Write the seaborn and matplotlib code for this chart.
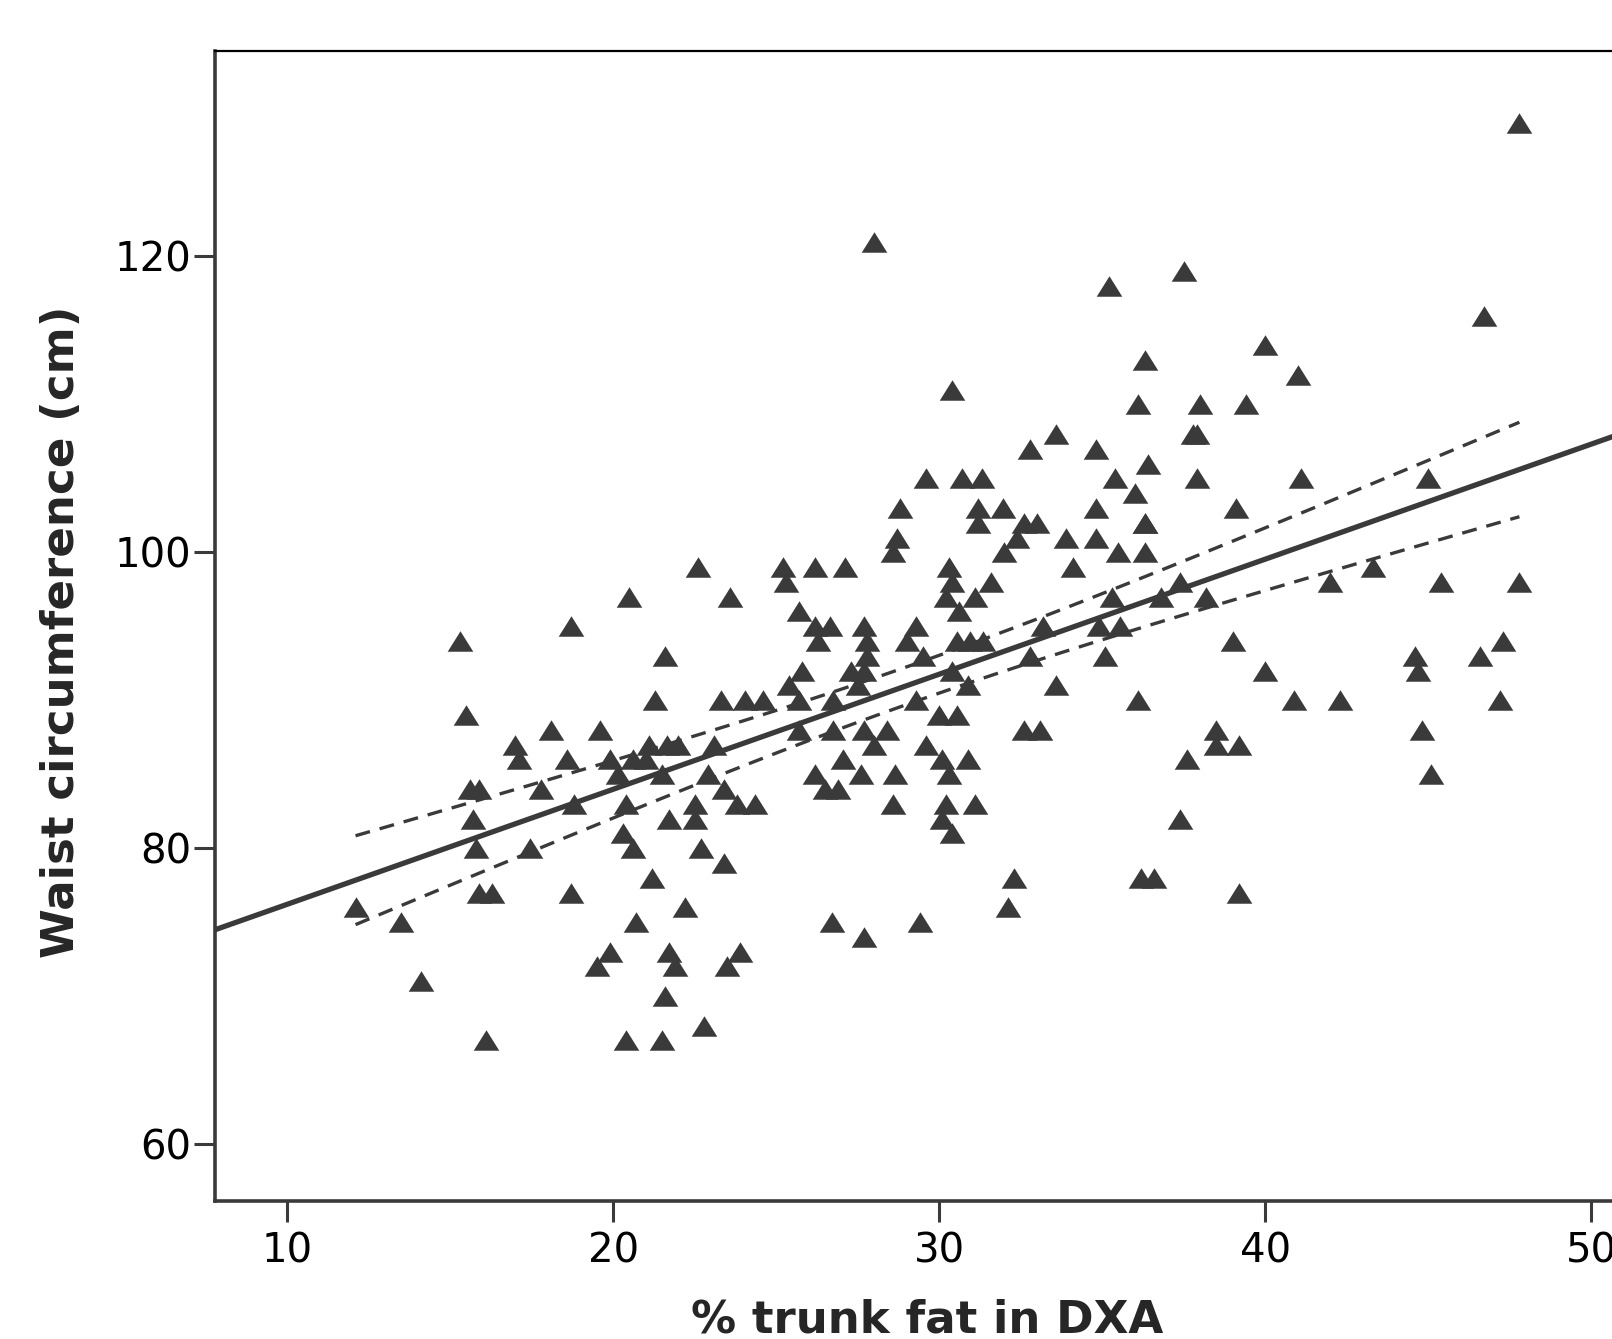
import numpy as np
import pandas as pd
import matplotlib
matplotlib.use("Agg")
import matplotlib.pyplot as plt
import seaborn as sns

# % trunk fat (DXA) and waist circumference (cm)
trunk_fat = [
    12.1, 13.5, 14.1, 16.1, 15.3, 15.5, 15.6, 15.9, 15.7, 15.8, 15.9, 16.3,
    17.0, 17.1, 17.45, 17.8, 18.6, 18.1, 18.7, 18.8, 18.7, 19.6, 19.9, 20.15,
    20.3, 20.6, 20.4, 20.5, 20.6, 21.0, 21.1, 21.65, 22.0, 21.3, 21.6, 21.5,
    21.7, 22.5, 22.5, 22.6, 22.9, 23.1, 22.7, 23.4, 23.6, 23.3, 24.05, 24.6,
    23.4, 23.8, 24.35, 21.2, 22.2, 20.7, 19.9, 19.5, 21.7, 21.9, 23.9, 23.5,
    21.6, 22.8, 20.4, 21.5,
    28.7, 28.6, 31.2, 32.4, 32.0, 33.9, 34.8, 36.3, 35.5, 36.3, 34.1, 25.2,
    26.2, 27.1, 25.3, 30.3, 30.4, 31.6, 30.2, 31.1, 30.6, 35.3, 25.7, 26.2,
    26.65, 26.3, 27.7, 27.8, 27.8, 29.3, 29.0, 29.5, 30.55, 30.95, 31.35, 30.4,
    30.9, 33.2, 34.9, 35.55, 32.8, 35.1, 33.6, 36.1, 25.8, 25.4, 25.7, 27.3,
    27.7, 27.5, 26.75, 29.3, 30.0, 30.55, 25.7, 26.75, 27.7, 28.4, 28.0, 29.6,
    30.1, 30.9, 27.05, 27.6, 28.65, 30.3, 26.2, 26.5, 26.9, 32.6, 33.1, 28.6,
    30.2, 31.1, 30.1, 30.4, 32.3, 32.1, 26.7, 27.7, 29.4, 36.2, 36.6,
    28.0, 35.2, 37.5, 36.3, 30.4, 36.1, 38.0, 39.4, 37.8, 37.9, 33.6, 32.8,
    34.8, 36.4, 29.6, 30.7, 31.3, 35.4, 37.9, 36.0, 28.8, 31.2, 31.96, 34.8,
    39.1, 36.3, 32.6, 33.0, 46.7, 40.0, 41.0, 41.1, 45.0, 47.8,
    37.4, 36.8, 38.2, 42.0, 43.3, 45.4, 47.8, 39.0, 40.0, 44.6, 44.7, 46.6,
    47.3, 40.9, 42.3, 47.2, 44.8, 38.5, 38.5, 39.2, 37.6, 45.1, 37.4, 39.2,
]
waist = [
    76, 75, 71, 67, 94, 89, 84, 84, 82, 80, 77, 77,
    87, 86, 80, 84, 86, 88, 95, 83, 77, 88, 86, 85,
    81, 80, 83, 97, 86, 86, 87, 87, 87, 90, 93, 85,
    82, 83, 82, 99, 85, 87, 80, 79, 97, 90, 90, 90,
    84, 83, 83, 78, 76, 75, 73, 72, 73, 72, 73, 72,
    70, 68, 67, 67,
    101, 100, 102, 101, 100, 101, 101, 102, 100, 100, 99, 99,
    99, 99, 98, 99, 98, 98, 97, 97, 96, 97, 96, 95,
    95, 94, 95, 94, 93, 95, 94, 93, 94, 94, 94, 92,
    91, 95, 95, 95, 93, 93, 91, 90, 92, 91, 90, 92,
    92, 91, 90, 90, 89, 89, 88, 88, 88, 88, 87, 87,
    86, 86, 86, 85, 85, 85, 85, 84, 84, 88, 88, 83,
    83, 83, 82, 81, 78, 76, 75, 74, 75, 78, 78,
    121, 118, 119, 113, 111, 110, 110, 110, 108, 108, 108, 107,
    107, 106, 105, 105, 105, 105, 105, 104, 103, 103, 103, 103,
    103, 102, 102, 102, 116, 114, 112, 105, 105, 129,
    98, 97, 97, 98, 99, 98, 98, 94, 92, 93, 92, 93,
    94, 90, 90, 90, 88, 88, 87, 87, 86, 85, 82, 77,
]

x_ticks = [10, 20, 30, 40, 50]
y_ticks = [60, 80, 100, 120]

df = pd.DataFrame({"trunk_fat": trunk_fat, "waist": waist})

sns.set_style("ticks")
plt.rcParams["font.family"] = ["DejaVu Sans"]

dark = "#3a3a3a"
fig = plt.figure(figsize=(16.12, 13.39), dpi=100)
ax = fig.add_axes([0.1334, 0.1031, 0.884, 0.8589])
ax.set_xlim(7.79, 51.5)
ax.set_ylim(56.15, 133.9)

# flattened triangle marker like SPSS
tri = [(-1, -0.8), (1, -0.8), (0, 0.8)]
sns.scatterplot(data=df, x="trunk_fat", y="waist", marker=tri, s=340,
                color=dark, edgecolor=dark, linewidth=0, ax=ax, zorder=3)

# fit line across the whole axis
sns.regplot(data=df, x="trunk_fat", y="waist", scatter=False, ci=None,
            truncate=False, color=dark, line_kws=dict(lw=3.8), ax=ax)

# 95% CI for the mean, drawn as dashed lines over the data range
x = df["trunk_fat"].to_numpy()
y = df["waist"].to_numpy()
n = len(x)
slope, intercept = np.polyfit(x, y, 1)
resid = y - (intercept + slope * x)
s_err = np.sqrt((resid ** 2).sum() / (n - 2))
grid = np.linspace(x.min(), x.max(), 100)
se = s_err * np.sqrt(1 / n + (grid - x.mean()) ** 2 / ((x - x.mean()) ** 2).sum())
fit = intercept + slope * grid
for sign in (1, -1):
    ax.plot(grid, fit + sign * 1.97 * se, color=dark, lw=2.4, ls=(0, (4.5, 3)))

ax.set_xticks(x_ticks)
ax.set_yticks(y_ticks)
ax.tick_params(axis="both", length=15, width=2.2, color=dark, labelsize=29,
               labelcolor="black")
ax.tick_params(axis="y", pad=2)
ax.tick_params(axis="x", pad=7)

for side in ("left", "bottom"):
    ax.spines[side].set_linewidth(2.6)
    ax.spines[side].set_color(dark)
ax.spines["top"].set_linewidth(1.6)
ax.spines["top"].set_color("black")
ax.spines["right"].set_visible(False)

ax.set_ylabel("Waist circumference (cm)", fontsize=32.5, fontweight="bold")
ax.set_xlabel("% trunk fat in DXA", fontsize=32.5, fontweight="bold")
ax.yaxis.set_label_coords(-0.093, 0.495)
ax.xaxis.set_label_coords(0.5, -0.085)

fig.savefig("out.png", dpi=100)
